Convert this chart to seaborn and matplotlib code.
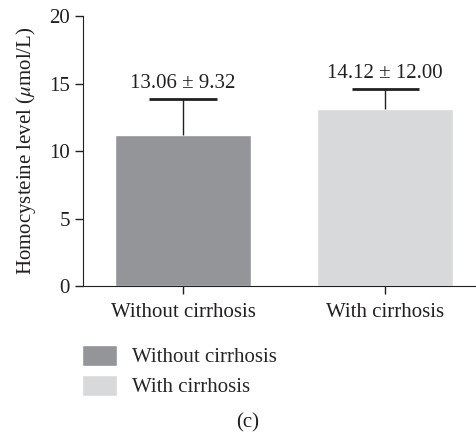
import matplotlib
matplotlib.use("Agg")
import matplotlib.pyplot as plt
import pandas as pd
import seaborn as sns

# Data
groups = ['Without cirrhosis', 'With cirrhosis']
means = [11.19, 13.11]
upper_err = [2.68, 1.48]
labels = ['13.06 ± 9.32', '14.12 ± 12.00']
colors = ['#939598', '#d8d9db']

df = pd.DataFrame({'Group': groups, 'Level': means})
df['Top'] = df['Level'] + pd.Series(upper_err)

sns.set_style('ticks')
plt.rcParams['font.family'] = ['Liberation Serif', 'DejaVu Serif']
plt.rcParams['mathtext.fontset'] = 'stix'

fs = 15
ink = '#231f20'

fig = plt.figure(figsize=(4.76, 4.34), dpi=100)
ax = fig.add_axes([0.1744, 0.341, 0.8256, 0.622])

sns.barplot(data=df, x='Group', y='Level', hue='Group', palette=colors,
            width=0.67, errorbar=None, legend=True, ax=ax, saturation=1)

# upper-only error bars
xs = list(range(len(groups)))
ax.vlines(xs, df['Level'], df['Top'], color=ink, lw=1)
ax.hlines(df['Top'], [x - 0.166 for x in xs], [x + 0.166 for x in xs], color=ink, lw=2)

for i, txt in enumerate(labels):
    ax.text(i, df['Top'][i] + 0.45, txt, ha='center', va='bottom',
            fontsize=fs, color=ink)

ax.set_xlim(-0.495, 1.45)
ax.set_ylim(0, 20)
ax.set_yticks([0, 5, 10, 15, 20])
ax.set_xlabel('')
ax.set_ylabel(r'Homocysteine level ($\mu$mol/L)', fontsize=fs, color=ink, labelpad=8)
ax.tick_params(axis='both', labelsize=fs, colors=ink, length=6, width=1)
ax.tick_params(axis='x', pad=6)
sns.despine(ax=ax)
for s in ['left', 'bottom']:
    ax.spines[s].set_color(ink)

ax.legend(loc='upper left', bbox_to_anchor=(0.172, 0.205), bbox_transform=fig.transFigure,
          frameon=False, fontsize=fs, handlelength=1.68, handleheight=1.16,
          borderaxespad=0, borderpad=0, labelspacing=0.35, handletextpad=0.72)

fig.text(0.521, 0.0253, '(c)', ha='center', va='center', fontsize=fs, color=ink)

fig.savefig('out.png', dpi=100)
